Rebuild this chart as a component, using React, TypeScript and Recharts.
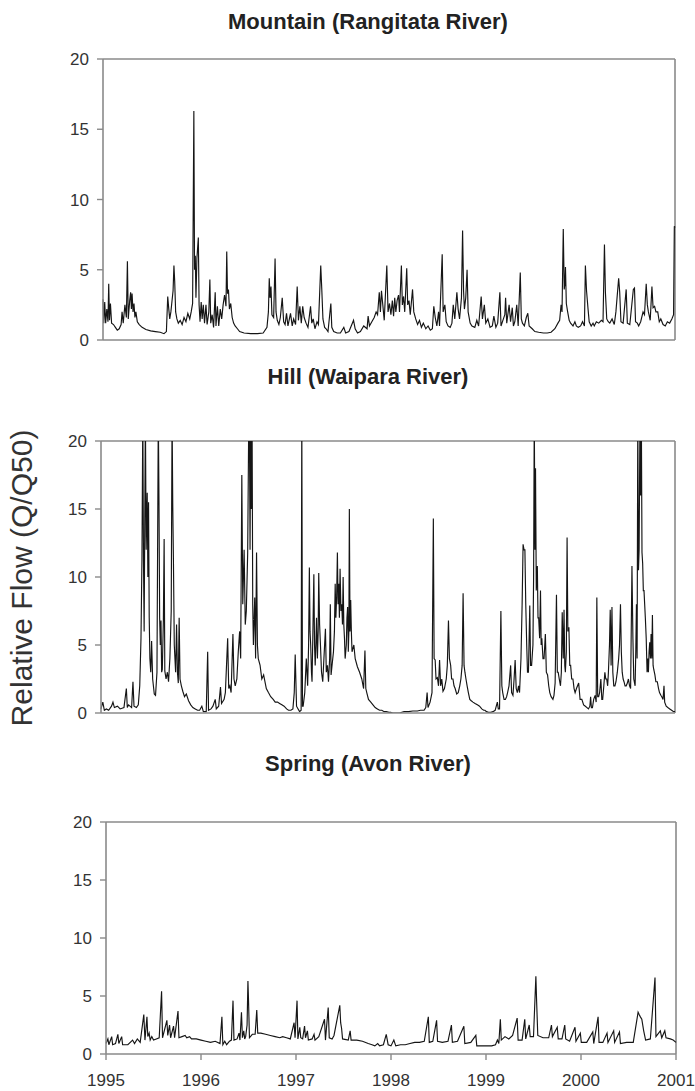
import React from 'react';
import { LineChart, Line, XAxis, YAxis, ReferenceLine } from 'recharts';

const YEARS = [1995, 1996, 1997, 1998, 1999, 2000, 2001];
const FLOW_TICKS = [0, 5, 10, 15, 20];

// [decimal year, Q/Q50]; 22 = off the top of the frame
const mountain: [number, number][] = [
  [1995.000, 2.9], [1995.008, 1.2], [1995.018, 2.7], [1995.028, 1.2], [1995.040, 2.2], [1995.052, 1.3], [1995.060, 4.0], [1995.068, 1.4],
  [1995.078, 2.6], [1995.090, 1.2], [1995.110, 1.1], [1995.130, 0.9], [1995.150, 0.7], [1995.170, 0.8], [1995.190, 1.1], [1995.200, 2.0],
  [1995.212, 1.2], [1995.230, 2.5], [1995.245, 1.6], [1995.256, 5.6], [1995.265, 1.5], [1995.280, 2.8], [1995.290, 3.4], [1995.298, 2.2],
  [1995.305, 3.3], [1995.315, 2.0], [1995.325, 2.6], [1995.335, 1.6], [1995.345, 2.0], [1995.360, 1.3], [1995.380, 1.1], [1995.410, 0.9],
  [1995.450, 0.75], [1995.500, 0.65], [1995.550, 0.6], [1995.600, 0.55], [1995.640, 0.45], [1995.665, 0.6], [1995.679, 3.1], [1995.690, 2.2],
  [1995.700, 1.5], [1995.712, 2.0], [1995.735, 3.5], [1995.744, 5.3], [1995.752, 4.2], [1995.762, 2.0], [1995.775, 1.5], [1995.790, 1.2],
  [1995.810, 1.4], [1995.830, 1.1], [1995.850, 1.6], [1995.870, 1.3], [1995.890, 1.9], [1995.910, 1.5], [1995.925, 2.0], [1995.940, 2.6],
  [1995.953, 16.3], [1995.960, 5.0], [1995.968, 6.0], [1995.975, 3.0], [1995.985, 5.8], [1996.000, 7.3], [1996.008, 2.5], [1996.018, 1.3],
  [1996.030, 2.7], [1996.040, 1.5], [1996.052, 2.5], [1996.065, 1.2], [1996.080, 2.5], [1996.092, 1.1], [1996.110, 2.0], [1996.121, 4.3],
  [1996.130, 1.2], [1996.145, 1.8], [1996.160, 0.9], [1996.177, 3.4], [1996.185, 1.0], [1996.200, 2.4], [1996.214, 1.0], [1996.230, 2.2],
  [1996.245, 1.5], [1996.260, 2.5], [1996.275, 3.2], [1996.290, 2.4], [1996.298, 6.3], [1996.306, 3.3], [1996.316, 3.6], [1996.326, 2.2],
  [1996.340, 2.6], [1996.355, 1.6], [1996.370, 1.2], [1996.386, 1.0], [1996.410, 0.8], [1996.433, 0.6], [1996.480, 0.5], [1996.550, 0.45],
  [1996.620, 0.45], [1996.680, 0.5], [1996.720, 0.9], [1996.735, 2.0], [1996.744, 4.4], [1996.752, 3.0], [1996.762, 3.8], [1996.772, 1.8],
  [1996.790, 1.6], [1996.805, 5.8], [1996.815, 2.0], [1996.828, 1.4], [1996.845, 1.1], [1996.860, 1.6], [1996.880, 3.0], [1996.895, 1.3],
  [1996.910, 1.1], [1996.925, 1.9], [1996.940, 1.0], [1996.967, 1.9], [1996.985, 1.0], [1997.000, 1.5], [1997.020, 1.1], [1997.037, 3.8],
  [1997.050, 1.4], [1997.065, 2.4], [1997.080, 1.2], [1997.095, 2.4], [1997.110, 1.6], [1997.130, 1.2], [1997.150, 0.9], [1997.177, 2.4],
  [1997.190, 1.2], [1997.205, 1.5], [1997.223, 0.8], [1997.245, 1.3], [1997.260, 1.1], [1997.284, 5.3], [1997.295, 3.6], [1997.307, 1.5],
  [1997.325, 0.9], [1997.340, 0.8], [1997.360, 0.6], [1997.390, 2.6], [1997.400, 0.9], [1997.420, 0.6], [1997.456, 0.5], [1997.490, 0.5],
  [1997.526, 0.9], [1997.545, 0.5], [1997.580, 0.6], [1997.610, 1.1], [1997.628, 1.4], [1997.645, 0.8], [1997.670, 0.5], [1997.700, 0.6],
  [1997.735, 1.0], [1997.770, 0.8], [1997.781, 1.7], [1997.795, 1.0], [1997.820, 1.3], [1997.845, 1.6], [1997.865, 2.0], [1997.880, 1.8],
  [1997.898, 3.4], [1997.910, 2.0], [1997.921, 3.5], [1997.935, 2.5], [1997.950, 1.4], [1997.977, 5.3], [1997.990, 2.0], [1998.005, 2.6],
  [1998.020, 1.8], [1998.035, 2.8], [1998.048, 1.7], [1998.060, 3.0], [1998.072, 2.0], [1998.085, 2.8], [1998.100, 3.2], [1998.110, 2.0],
  [1998.130, 5.3], [1998.140, 2.5], [1998.153, 3.1], [1998.165, 2.0], [1998.186, 5.1], [1998.196, 2.5], [1998.210, 2.8], [1998.223, 1.8],
  [1998.247, 3.6], [1998.260, 2.0], [1998.280, 1.5], [1998.300, 1.1], [1998.320, 1.4], [1998.340, 0.9], [1998.360, 1.2], [1998.386, 0.8],
  [1998.410, 1.0], [1998.433, 0.7], [1998.455, 0.8], [1998.470, 2.4], [1998.485, 1.6], [1998.502, 1.0], [1998.520, 2.0], [1998.530, 1.0],
  [1998.558, 6.1], [1998.568, 2.0], [1998.586, 2.5], [1998.600, 1.3], [1998.619, 1.0], [1998.642, 0.9], [1998.660, 1.2], [1998.674, 2.5],
  [1998.690, 1.5], [1998.712, 3.4], [1998.725, 2.2], [1998.740, 1.5], [1998.760, 3.0], [1998.772, 7.8], [1998.782, 3.5], [1998.791, 2.2],
  [1998.805, 3.0], [1998.819, 5.0], [1998.830, 2.0], [1998.851, 1.2], [1998.870, 1.0], [1998.900, 0.9], [1998.921, 1.4], [1998.940, 1.0],
  [1998.967, 3.1], [1998.980, 1.5], [1999.000, 2.5], [1999.015, 1.2], [1999.037, 1.5], [1999.060, 0.9], [1999.084, 1.0], [1999.100, 1.7],
  [1999.121, 0.9], [1999.140, 1.2], [1999.163, 3.4], [1999.175, 1.0], [1999.200, 1.5], [1999.215, 1.8], [1999.223, 3.0], [1999.235, 1.2],
  [1999.260, 2.5], [1999.275, 1.3], [1999.293, 2.3], [1999.305, 1.0], [1999.320, 1.3], [1999.340, 2.5], [1999.355, 1.0], [1999.377, 4.8],
  [1999.388, 1.5], [1999.400, 1.2], [1999.420, 1.0], [1999.440, 1.6], [1999.456, 1.9], [1999.470, 1.0], [1999.502, 0.8], [1999.530, 0.6],
  [1999.570, 0.55], [1999.620, 0.5], [1999.660, 0.5], [1999.700, 0.55], [1999.740, 0.8], [1999.772, 1.2], [1999.790, 1.4], [1999.805, 2.5],
  [1999.815, 2.0], [1999.828, 7.9], [1999.838, 3.6], [1999.845, 4.0], [1999.851, 5.2], [1999.860, 2.6], [1999.874, 2.0], [1999.890, 1.4],
  [1999.905, 1.2], [1999.930, 1.0], [1999.950, 1.3], [1999.965, 1.0], [1999.985, 0.9], [2000.010, 1.0], [2000.030, 1.3], [2000.050, 1.0],
  [2000.060, 5.3], [2000.072, 3.5], [2000.088, 2.2], [2000.100, 1.3], [2000.121, 1.0], [2000.140, 1.2], [2000.153, 1.0], [2000.175, 1.3],
  [2000.200, 1.2], [2000.228, 1.4], [2000.245, 1.3], [2000.260, 6.8], [2000.270, 3.4], [2000.284, 1.5], [2000.300, 1.3], [2000.316, 1.2],
  [2000.340, 1.5], [2000.363, 1.1], [2000.380, 2.0], [2000.409, 4.4], [2000.420, 3.4], [2000.433, 1.3], [2000.456, 1.2], [2000.488, 3.6],
  [2000.500, 1.2], [2000.526, 1.1], [2000.563, 3.6], [2000.575, 3.7], [2000.586, 1.3], [2000.605, 1.2], [2000.619, 1.0], [2000.640, 1.3],
  [2000.665, 2.0], [2000.680, 1.8], [2000.698, 4.0], [2000.710, 2.5], [2000.721, 2.0], [2000.740, 1.4], [2000.758, 3.8], [2000.770, 2.3],
  [2000.786, 2.4], [2000.800, 2.0], [2000.819, 2.0], [2000.835, 1.3], [2000.851, 1.5], [2000.875, 1.1], [2000.898, 1.0], [2000.920, 1.3],
  [2000.944, 1.2], [2000.967, 1.5], [2000.985, 1.8], [2000.993, 8.1], [2001.000, 8.0],
];

const hill: [number, number][] = [
  [1995.000, 0.3], [1995.019, 0.8], [1995.035, 0.2], [1995.056, 0.3], [1995.080, 0.2], [1995.110, 0.5], [1995.125, 0.8], [1995.140, 0.4],
  [1995.172, 0.5], [1995.200, 0.3], [1995.240, 0.4], [1995.265, 1.8], [1995.275, 0.4], [1995.288, 0.6], [1995.320, 0.4], [1995.334, 2.3],
  [1995.345, 0.5], [1995.370, 0.4], [1995.390, 0.6], [1995.405, 2.0], [1995.418, 5.5], [1995.428, 11.3], [1995.437, 22], [1995.444, 11.3],
  [1995.451, 6.0], [1995.464, 22], [1995.472, 12.0], [1995.483, 16.2], [1995.490, 10.0], [1995.497, 15.5], [1995.504, 7.0], [1995.511, 4.0],
  [1995.520, 3.0], [1995.529, 5.3], [1995.540, 2.5], [1995.557, 1.4], [1995.570, 1.3], [1995.585, 3.0], [1995.599, 22], [1995.606, 15.6],
  [1995.613, 7.0], [1995.620, 5.0], [1995.627, 6.8], [1995.634, 3.0], [1995.641, 3.2], [1995.652, 6.8], [1995.660, 12.8], [1995.667, 3.1],
  [1995.680, 2.5], [1995.694, 3.0], [1995.706, 2.3], [1995.720, 4.0], [1995.734, 7.5], [1995.743, 22], [1995.750, 15.3], [1995.757, 11.3],
  [1995.766, 5.0], [1995.780, 3.0], [1995.790, 6.5], [1995.799, 3.0], [1995.808, 2.2], [1995.817, 7.0], [1995.826, 2.5], [1995.840, 2.0],
  [1995.855, 1.6], [1995.873, 1.2], [1995.892, 1.4], [1995.915, 0.9], [1995.938, 0.6], [1995.960, 0.4], [1995.985, 0.3], [1996.010, 0.2],
  [1996.031, 0.2], [1996.054, 0.5], [1996.070, 0.1], [1996.100, 0.1], [1996.115, 4.5], [1996.124, 0.2], [1996.150, 0.3], [1996.170, 0.5],
  [1996.194, 1.0], [1996.205, 0.3], [1996.230, 0.5], [1996.249, 1.9], [1996.260, 0.7], [1996.287, 1.0], [1996.300, 1.5], [1996.324, 5.5],
  [1996.335, 1.8], [1996.347, 2.0], [1996.360, 1.5], [1996.379, 5.8], [1996.390, 2.5], [1996.403, 2.0], [1996.420, 2.5], [1996.435, 4.5],
  [1996.449, 6.0], [1996.460, 4.0], [1996.472, 17.5], [1996.482, 8.0], [1996.496, 12.0], [1996.508, 6.5], [1996.519, 7.5], [1996.533, 11.7],
  [1996.545, 22], [1996.551, 22], [1996.558, 12.0], [1996.565, 22], [1996.572, 15.0], [1996.579, 22], [1996.586, 8.0], [1996.593, 5.0],
  [1996.607, 8.5], [1996.616, 4.0], [1996.626, 11.8], [1996.635, 5.0], [1996.644, 4.0], [1996.663, 3.5], [1996.681, 2.5], [1996.700, 2.8],
  [1996.728, 1.8], [1996.750, 1.5], [1996.774, 1.2], [1996.800, 1.0], [1996.821, 0.8], [1996.845, 0.8], [1996.867, 0.7], [1996.890, 0.6],
  [1996.914, 0.5], [1996.940, 0.3], [1996.960, 0.2], [1996.985, 0.2], [1997.006, 0.3], [1997.020, 1.5], [1997.030, 4.3], [1997.044, 0.5],
  [1997.060, 0.3], [1997.076, 0.1], [1997.092, 0.2], [1997.099, 22], [1997.106, 0.5], [1997.113, 0.5], [1997.130, 1.5], [1997.146, 4.0],
  [1997.160, 2.0], [1997.170, 5.0], [1997.178, 10.7], [1997.185, 6.0], [1997.192, 5.0], [1997.200, 3.0], [1997.206, 2.3], [1997.215, 6.0],
  [1997.225, 10.2], [1997.232, 5.0], [1997.239, 3.5], [1997.246, 5.0], [1997.253, 7.0], [1997.262, 4.0], [1997.270, 6.0], [1997.276, 10.3],
  [1997.285, 6.5], [1997.294, 5.0], [1997.305, 3.0], [1997.318, 2.3], [1997.330, 4.0], [1997.346, 6.2], [1997.355, 3.0], [1997.367, 3.5],
  [1997.378, 2.3], [1997.390, 4.0], [1997.397, 8.0], [1997.405, 2.8], [1997.415, 3.5], [1997.430, 4.5], [1997.440, 6.0], [1997.448, 9.5],
  [1997.455, 7.0], [1997.463, 8.5], [1997.471, 11.8], [1997.478, 8.0], [1997.485, 9.5], [1997.492, 7.0], [1997.499, 10.6], [1997.508, 7.5],
  [1997.517, 8.0], [1997.524, 6.5], [1997.531, 10.0], [1997.538, 6.5], [1997.545, 5.5], [1997.552, 4.0], [1997.564, 5.0], [1997.571, 7.0],
  [1997.578, 7.8], [1997.585, 4.5], [1997.591, 6.0], [1997.596, 15.0], [1997.603, 6.0], [1997.610, 8.3], [1997.617, 6.0], [1997.624, 4.5],
  [1997.643, 5.0], [1997.657, 4.0], [1997.680, 3.4], [1997.703, 3.0], [1997.726, 2.5], [1997.745, 1.8], [1997.759, 4.6], [1997.768, 1.8],
  [1997.778, 1.5], [1997.796, 1.0], [1997.820, 0.8], [1997.843, 0.6], [1997.866, 0.4], [1997.889, 0.3], [1997.912, 0.2], [1997.935, 0.2],
  [1997.960, 0.1], [1997.982, 0.1], [1998.010, 0.05], [1998.028, 0.05], [1998.050, 0.0], [1998.075, 0.0], [1998.100, 0.0], [1998.121, 0.0],
  [1998.145, 0.05], [1998.168, 0.1], [1998.190, 0.1], [1998.214, 0.1], [1998.260, 0.15], [1998.307, 0.15], [1998.340, 0.2], [1998.377, 0.2],
  [1998.395, 0.4], [1998.409, 1.5], [1998.418, 0.4], [1998.440, 0.8], [1998.460, 1.5], [1998.474, 14.3], [1998.482, 4.0], [1998.493, 3.9],
  [1998.502, 2.5], [1998.516, 2.6], [1998.528, 2.0], [1998.539, 3.9], [1998.550, 2.0], [1998.562, 2.5], [1998.575, 1.6], [1998.590, 1.8],
  [1998.609, 2.5], [1998.620, 3.5], [1998.632, 6.8], [1998.642, 4.0], [1998.655, 3.5], [1998.665, 2.5], [1998.679, 2.5], [1998.690, 2.0],
  [1998.702, 1.8], [1998.718, 1.4], [1998.734, 1.5], [1998.750, 2.0], [1998.762, 2.5], [1998.775, 3.5], [1998.785, 8.8], [1998.795, 3.5],
  [1998.804, 3.0], [1998.815, 2.5], [1998.827, 2.0], [1998.840, 1.5], [1998.855, 1.0], [1998.870, 0.9], [1998.888, 0.8], [1998.910, 0.7],
  [1998.934, 0.6], [1998.957, 0.5], [1998.980, 0.3], [1999.000, 0.2], [1999.013, 0.2], [1999.030, 0.1], [1999.050, 0.05], [1999.075, 0.05],
  [1999.097, 0.1], [1999.120, 0.2], [1999.143, 0.8], [1999.153, 0.3], [1999.166, 0.3], [1999.180, 7.5], [1999.190, 2.0], [1999.199, 1.5],
  [1999.213, 1.0], [1999.227, 1.0], [1999.240, 1.2], [1999.250, 1.5], [1999.265, 2.0], [1999.282, 3.5], [1999.292, 1.5], [1999.306, 1.3],
  [1999.318, 2.5], [1999.329, 3.9], [1999.340, 1.8], [1999.352, 1.5], [1999.365, 2.0], [1999.375, 1.5], [1999.390, 4.0], [1999.402, 8.0],
  [1999.412, 12.4], [1999.422, 12.0], [1999.431, 12.0], [1999.440, 8.0], [1999.450, 5.0], [1999.458, 3.0], [1999.468, 3.0], [1999.482, 7.9],
  [1999.490, 3.5], [1999.501, 3.5], [1999.515, 5.0], [1999.522, 10.0], [1999.529, 22], [1999.536, 12.0], [1999.542, 18.0], [1999.550, 9.0],
  [1999.561, 10.8], [1999.568, 7.0], [1999.575, 7.0], [1999.585, 5.5], [1999.594, 9.0], [1999.601, 5.0], [1999.608, 5.5], [1999.620, 4.0],
  [1999.631, 4.0], [1999.645, 5.8], [1999.655, 3.0], [1999.668, 2.8], [1999.680, 2.0], [1999.691, 1.5], [1999.705, 1.2], [1999.724, 1.0],
  [1999.735, 1.3], [1999.747, 2.2], [1999.761, 8.7], [1999.770, 3.0], [1999.779, 3.0], [1999.790, 2.5], [1999.803, 2.0], [1999.812, 3.0],
  [1999.821, 7.4], [1999.832, 4.0], [1999.840, 7.6], [1999.848, 3.5], [1999.854, 3.0], [1999.864, 4.5], [1999.872, 12.9], [1999.880, 6.0],
  [1999.891, 6.3], [1999.900, 3.5], [1999.909, 3.5], [1999.920, 2.5], [1999.933, 2.5], [1999.945, 1.8], [1999.956, 1.5], [1999.970, 1.8],
  [1999.993, 2.2], [2000.008, 1.0], [2000.026, 1.0], [2000.045, 0.6], [2000.063, 0.5], [2000.080, 0.4], [2000.095, 0.3], [2000.110, 0.5],
  [2000.118, 1.2], [2000.126, 0.4], [2000.137, 0.4], [2000.150, 1.0], [2000.165, 1.3], [2000.176, 0.8], [2000.183, 8.5], [2000.192, 1.2],
  [2000.202, 1.2], [2000.212, 1.5], [2000.225, 2.5], [2000.235, 1.0], [2000.244, 1.0], [2000.256, 2.0], [2000.267, 3.0], [2000.276, 2.5],
  [2000.286, 2.5], [2000.296, 2.0], [2000.304, 3.0], [2000.315, 5.0], [2000.323, 7.6], [2000.332, 3.5], [2000.341, 7.8], [2000.350, 3.0],
  [2000.360, 2.0], [2000.372, 2.0], [2000.383, 2.3], [2000.397, 3.0], [2000.411, 4.0], [2000.420, 5.0], [2000.430, 8.0], [2000.439, 4.5],
  [2000.448, 3.0], [2000.458, 2.5], [2000.467, 2.3], [2000.478, 2.0], [2000.490, 2.0], [2000.502, 2.2], [2000.513, 2.5], [2000.525, 2.0],
  [2000.536, 1.8], [2000.550, 10.8], [2000.560, 5.5], [2000.569, 2.5], [2000.583, 2.0], [2000.590, 4.5], [2000.597, 8.0], [2000.604, 4.0],
  [2000.611, 22], [2000.618, 10.5], [2000.625, 12.0], [2000.634, 22], [2000.641, 16.0], [2000.648, 22], [2000.655, 11.8], [2000.662, 11.0],
  [2000.669, 9.0], [2000.676, 9.0], [2000.683, 8.0], [2000.690, 7.0], [2000.699, 5.5], [2000.708, 3.0], [2000.715, 4.0], [2000.722, 3.0],
  [2000.729, 4.5], [2000.736, 5.2], [2000.743, 4.0], [2000.750, 5.8], [2000.757, 4.0], [2000.764, 7.2], [2000.771, 3.5], [2000.778, 3.2],
  [2000.790, 2.8], [2000.800, 2.3], [2000.815, 2.3], [2000.828, 1.8], [2000.838, 1.5], [2000.852, 1.3], [2000.862, 1.2], [2000.875, 1.0],
  [2000.885, 2.0], [2000.892, 0.8], [2000.908, 0.5], [2000.925, 0.4], [2000.945, 0.3], [2000.965, 0.2], [2000.985, 0.1], [2001.000, 0.1],
];

const spring: [number, number][] = [
  [1995.000, 0.9], [1995.020, 1.3], [1995.030, 0.8], [1995.060, 1.5], [1995.070, 0.8], [1995.100, 0.9], [1995.125, 1.7], [1995.135, 0.9],
  [1995.165, 1.5], [1995.175, 0.8], [1995.230, 0.8], [1995.280, 1.2], [1995.300, 0.9], [1995.330, 1.3], [1995.360, 1.0], [1995.398, 3.4],
  [1995.410, 1.2], [1995.431, 3.2], [1995.440, 1.5], [1995.454, 1.8], [1995.465, 1.2], [1995.482, 1.5], [1995.500, 1.2], [1995.530, 1.3],
  [1995.560, 1.4], [1995.585, 5.4], [1995.595, 1.4], [1995.641, 2.9], [1995.650, 1.6], [1995.669, 2.5], [1995.680, 1.4], [1995.711, 2.4],
  [1995.722, 1.4], [1995.758, 3.7], [1995.768, 1.4], [1995.800, 1.5], [1995.833, 1.6], [1995.850, 1.4], [1995.880, 1.5], [1995.900, 1.3],
  [1995.950, 1.3], [1996.000, 1.2], [1996.050, 1.1], [1996.100, 1.0], [1996.150, 1.1], [1996.200, 0.9], [1996.220, 3.2], [1996.230, 0.8],
  [1996.250, 1.1], [1996.270, 0.8], [1996.300, 1.1], [1996.320, 1.2], [1996.337, 4.6], [1996.347, 1.2], [1996.380, 1.3], [1996.400, 1.8],
  [1996.410, 1.2], [1996.426, 3.6], [1996.436, 1.4], [1996.450, 2.0], [1996.460, 1.3], [1996.470, 1.5], [1996.485, 2.5], [1996.494, 6.3],
  [1996.500, 4.7], [1996.510, 1.4], [1996.540, 1.7], [1996.570, 1.7], [1996.587, 3.8], [1996.597, 1.8], [1996.630, 1.8], [1996.680, 1.7],
  [1996.730, 1.6], [1996.780, 1.5], [1996.830, 1.4], [1996.860, 1.5], [1996.900, 1.4], [1996.940, 1.3], [1996.980, 2.7], [1996.990, 1.4],
  [1997.011, 4.6], [1997.020, 1.3], [1997.040, 2.3], [1997.050, 1.4], [1997.070, 1.3], [1997.090, 2.4], [1997.100, 1.4], [1997.120, 2.0],
  [1997.130, 1.2], [1997.170, 1.3], [1997.190, 1.7], [1997.200, 1.2], [1997.240, 1.5], [1997.300, 3.0], [1997.310, 1.2], [1997.339, 4.0],
  [1997.350, 1.4], [1997.380, 1.3], [1997.400, 1.6], [1997.461, 4.2], [1997.470, 2.7], [1997.480, 2.2], [1997.490, 1.3], [1997.550, 1.2],
  [1997.570, 2.0], [1997.580, 1.2], [1997.640, 1.2], [1997.700, 1.1], [1997.760, 0.9], [1997.800, 0.8], [1997.830, 0.7], [1997.860, 0.9],
  [1997.880, 0.7], [1997.920, 0.8], [1997.950, 1.7], [1997.970, 0.8], [1998.000, 0.7], [1998.030, 1.2], [1998.050, 0.7], [1998.100, 0.8],
  [1998.150, 0.8], [1998.200, 0.9], [1998.250, 1.0], [1998.300, 1.0], [1998.350, 1.1], [1998.393, 3.2], [1998.403, 1.0], [1998.440, 1.1],
  [1998.480, 2.9], [1998.490, 1.1], [1998.540, 1.0], [1998.600, 1.1], [1998.636, 2.5], [1998.646, 1.0], [1998.700, 1.1], [1998.767, 2.4],
  [1998.777, 0.9], [1998.840, 1.0], [1998.893, 1.6], [1998.903, 0.7], [1998.960, 0.7], [1999.000, 0.7], [1999.060, 0.7], [1999.100, 0.8],
  [1999.120, 1.2], [1999.135, 0.9], [1999.151, 3.0], [1999.161, 1.2], [1999.200, 1.5], [1999.240, 1.3], [1999.280, 1.6], [1999.328, 3.1],
  [1999.338, 1.2], [1999.380, 1.2], [1999.408, 3.0], [1999.418, 1.3], [1999.455, 2.5], [1999.465, 1.5], [1999.500, 1.5], [1999.525, 6.7],
  [1999.533, 4.5], [1999.545, 1.6], [1999.600, 1.4], [1999.660, 1.4], [1999.689, 2.5], [1999.699, 1.5], [1999.750, 2.3], [1999.760, 1.3],
  [1999.800, 1.3], [1999.829, 2.5], [1999.839, 1.3], [1999.880, 1.1], [1999.937, 2.3], [1999.947, 1.1], [1999.993, 1.8], [2000.003, 1.0],
  [2000.060, 1.0], [2000.124, 1.9], [2000.134, 0.9], [2000.180, 3.2], [2000.190, 1.0], [2000.230, 1.0], [2000.274, 1.8], [2000.284, 1.0],
  [2000.344, 2.0], [2000.354, 1.0], [2000.405, 1.9], [2000.415, 0.9], [2000.480, 1.0], [2000.550, 1.0], [2000.601, 3.6], [2000.612, 3.4],
  [2000.625, 3.2], [2000.640, 3.0], [2000.660, 2.0], [2000.680, 1.2], [2000.730, 1.3], [2000.779, 6.6], [2000.789, 1.5], [2000.835, 2.0],
  [2000.850, 1.4], [2000.882, 2.0], [2000.895, 1.4], [2000.940, 1.3], [2000.970, 1.2], [2001.000, 1.0],
];

const FONT = '"Liberation Sans", Arial, Helvetica, sans-serif';
const AXIS = '#8a8a8a';
const INK = '#151515';
const TICK_TEXT = { fill: '#333', fontSize: 17, fontFamily: FONT };

type PanelProps = {
  title: string;
  series: [number, number][];
  titleY: number;
  top: number;
  plotTop: number;
  plotHeight: number;
  plotLeft: number;
  plotRight: number;
  xAxisHeight: number;
  showYears: boolean;
};

function Panel({ title, series, titleY, top, plotTop, plotHeight, plotLeft, plotRight, xAxisHeight, showYears }: PanelProps) {
  const data = series.map(([t, q]) => ({ t, q }));
  const marginTop = plotTop - top;
  const height = marginTop + plotHeight + xAxisHeight;
  return (
    <>
      <div style={{
        position: 'absolute', left: 168, width: 400, top: titleY - 13, lineHeight: '26px',
        textAlign: 'center', fontFamily: FONT, fontWeight: 'bold', fontSize: 22, color: '#222',
      }}>
        {title}
      </div>
      <div style={{ position: 'absolute', left: 0, top }}>
        <LineChart
          width={695}
          height={height}
          data={data}
          margin={{ top: marginTop, right: 695 - plotRight, bottom: 0, left: plotLeft - 60 }}
        >
          <XAxis
            dataKey="t"
            type="number"
            domain={[1995, 2001]}
            ticks={YEARS}
            interval={0}
            height={xAxisHeight}
            tickSize={6}
            tickMargin={14}
            axisLine={{ stroke: AXIS, strokeWidth: 1.6 }}
            tickLine={{ stroke: AXIS, strokeWidth: 1.4 }}
            tick={showYears ? TICK_TEXT : false}
          />
          <YAxis
            type="number"
            domain={[0, 20]}
            ticks={FLOW_TICKS}
            interval={0}
            allowDataOverflow
            width={60}
            tickSize={6}
            tickMargin={8}
            axisLine={{ stroke: AXIS, strokeWidth: 1.6 }}
            tickLine={{ stroke: AXIS, strokeWidth: 1.4 }}
            tick={TICK_TEXT}
          />
          <ReferenceLine y={20} stroke={AXIS} strokeWidth={1.6} />
          <ReferenceLine x={2001} stroke={AXIS} strokeWidth={1.6} />
          <Line type="linear" dataKey="q" stroke={INK} strokeWidth={1.15} dot={false} isAnimationActive={false} />
        </LineChart>
      </div>
    </>
  );
}

export default function App() {
  return (
    <div style={{ position: 'absolute', left: 0, top: 0, width: 695, height: 1091, background: '#fff', overflow: 'hidden' }}>
      <Panel title="Mountain (Rangitata River)" series={mountain} titleY={22} top={40}
        plotTop={59} plotHeight={281} plotLeft={103} plotRight={675} xAxisHeight={30} showYears={false} />
      <Panel title="Hill (Waipara River)" series={hill} titleY={377} top={420}
        plotTop={441} plotHeight={272} plotLeft={101} plotRight={675} xAxisHeight={30} showYears={false} />
      <Panel title="Spring (Avon River)" series={spring} titleY={764} top={800}
        plotTop={822} plotHeight={232} plotLeft={106} plotRight={676} xAxisHeight={37} showYears />
      <div style={{
        position: 'absolute', left: 22 - 200, top: 578 - 20, width: 400, height: 40, lineHeight: '40px',
        transform: 'rotate(-90deg)', textAlign: 'center', fontFamily: FONT, fontSize: 30, color: '#333',
      }}>
        Relative Flow (Q/Q50)
      </div>
    </div>
  );
}
